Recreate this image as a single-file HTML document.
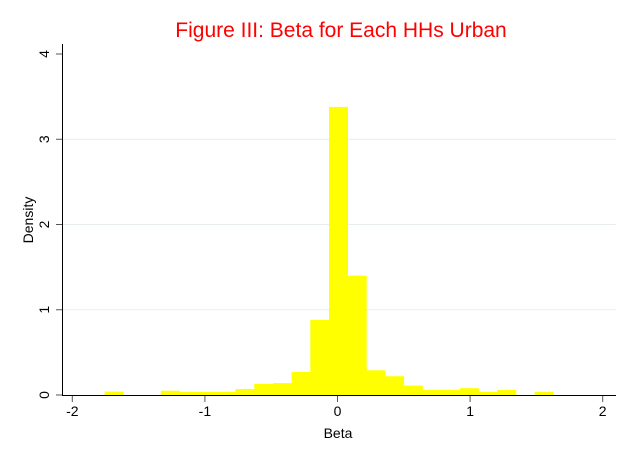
<!DOCTYPE html>
<html><head><meta charset="utf-8">
<style>body{margin:0;background:#fff}svg{display:block;font-family:"Liberation Sans",Arial,sans-serif}</style>
</head><body>
<svg id="c" width="630" height="458" xmlns="http://www.w3.org/2000/svg">
<rect width="630" height="458" fill="#fff"/>
<text x="341" y="37" text-anchor="middle" font-size="21" fill="#ff0000">Figure III: Beta for Each HHs Urban</text>
<g id="grid"></g><g id="bars"></g><g id="axes"></g>
<text x="338" y="438" text-anchor="middle" font-size="14">Beta</text>
<text transform="translate(33,220) rotate(-90)" text-anchor="middle" font-size="14">Density</text>
</svg>
<script>
const binStart = -1.756;
const binWidth = 0.141;
const densities = [0.04,0,0,0.05,0.035,0.035,0.035,0.07,0.13,0.14,0.27,0.88,3.38,1.4,0.29,0.22,0.11,0.06,0.06,0.08,0.035,0.06,0,0.035];
const xTicks = [-2,-1,0,1,2];
const yTicks = [0,1,2,3,4];
const gridLines = [1,2,3];
const NS="http://www.w3.org/2000/svg";
const X=v=>337.5+v*132.6, Y=v=>395-v*85.25;
function mk(t,a,p){const e=document.createElementNS(NS,t);for(const k in a)e.setAttribute(k,a[k]);p.appendChild(e);return e;}
const g=document.getElementById('grid'),b=document.getElementById('bars'),ax=document.getElementById('axes');
gridLines.forEach(v=>{const l=mk('line',{x1:63,x2:616,y1:Y(v),y2:Y(v),stroke:'#e8eeee','stroke-width':1},g);

});
densities.forEach((d,i)=>{if(d<=0)return;const x0=X(binStart+i*binWidth),x1=X(binStart+(i+1)*binWidth);
const r=mk('rect',{x:x0,y:Y(d),width:x1-x0+0.3,height:Y(0)-Y(d),fill:'#ffff00'},b);

});
const ya=mk('line',{x1:62.5,x2:62.5,y1:44,y2:395.5,stroke:'#000','stroke-width':1},ax);


const xa=mk('line',{x1:62,x2:616,y1:395.5,y2:395.5,stroke:'#000','stroke-width':1},ax);


yTicks.forEach(v=>{mk('line',{x1:56,x2:62,y1:Y(v),y2:Y(v),stroke:'#555'},ax);
const t=mk('text',{transform:`translate(49,${Y(v)}) rotate(-90)`,'text-anchor':'middle','font-size':14},ax);t.textContent=v;

});
xTicks.forEach(v=>{mk('line',{x1:X(v),x2:X(v),y1:396,y2:402,stroke:'#555'},ax);
const t=mk('text',{x:X(v),y:416,'text-anchor':'middle','font-size':14},ax);t.textContent=v;

});
</script>
</body></html>
